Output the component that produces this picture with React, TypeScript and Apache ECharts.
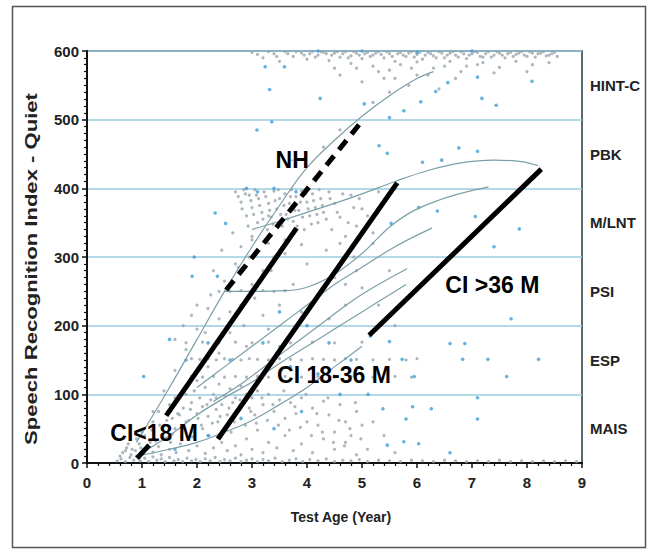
import React, { useEffect, useRef } from "react";
import * as echarts from "echarts";

// ---- Data ----
const xTicks = [0, 1, 2, 3, 4, 5, 6, 7, 8, 9];
const bandLabels = ["MAIS", "ESP", "PSI", "M/LNT", "PBK", "HINT-C"];

const grayPts: number[][] = [
  // bottom band
  [0.55,3],[0.62,6],[0.7,2],[0.78,8],[0.85,4],[0.9,10],[0.97,3],[1.05,7],[1.12,2],[1.2,9],[1.27,4],[1.35,6],[1.42,2],[1.5,8],[1.58,3],[1.66,5],[1.74,2],[1.82,7],[1.9,3],[1.98,5],[2.06,2],[2.15,6],[2.24,3],[2.33,8],[2.42,2],[2.5,5],[2.6,3],[2.7,7],[2.8,2],[2.9,4],[3.0,6],[3.1,2],[3.2,5],[3.3,3],[3.42,7],[3.55,2],[3.68,4],[3.8,6],[3.92,2],[4.05,5],[4.2,3],[4.35,6],[4.5,2],[4.65,4],[4.8,3],[4.95,5],[5.1,2],[5.3,4],[5.5,3],[5.7,2],[5.9,4],[6.1,3],[6.3,2],[6.5,4],[6.7,3],[6.9,2],[7.1,3],[7.3,2],[7.5,4],[7.7,2],[7.9,3],[8.1,2],[8.3,3],[8.5,2],[8.7,3],[8.9,2],
  // low-left cluster
  [0.65,15],[0.72,22],[0.8,12],[0.88,18],[0.95,28],[1.0,14],[1.08,20],[1.15,30],[1.2,16],[1.3,24],[1.35,12],[1.42,35],[1.5,20],[1.55,42],[1.62,15],[1.7,28],[1.78,50],[1.85,18],[1.92,38],[2.0,25],[2.08,55],[2.15,14],[2.22,40],[2.3,22],[2.38,60],[2.45,30],[2.55,18],[2.62,45],[2.7,25],[2.8,12],[2.9,35],[3.0,20],[3.1,48],[3.2,15],[3.3,30],[3.45,22],[3.6,40],[3.75,18],[3.9,28],[4.1,15],[4.3,35],[4.5,20],[4.7,30],[4.9,12],
  [0.6,10],[0.7,18],[0.75,28],[0.82,20],[0.9,35],[0.98,22],[1.05,40],[1.1,25],[1.18,48],[1.25,32],[1.32,55],[1.38,40],[1.45,62],[1.52,30],[1.6,50],[1.65,72],[1.72,38],[1.8,60],[1.88,78],[1.95,45],[2.02,65],[2.1,50],[2.18,85],[2.28,58],[2.35,95],[2.42,68],[2.5,50],[2.58,80],[2.68,60],[2.78,92],[2.88,55],[2.98,75],[3.08,58],[3.18,95],[3.28,62],[3.38,85],[3.48,55],[3.58,105],[3.68,48],[3.78,82],[3.88,52],[3.98,100],[4.08,40],[4.18,72],[4.28,45],[4.38,95],[4.48,30],[4.58,62],[4.68,25],[4.78,50],[4.88,88],[4.98,35],[5.1,20],[5.2,60],[5.4,40],[5.6,15],
  // mid-low cluster
  [1.2,60],[1.3,75],[1.4,55],[1.5,85],[1.55,65],[1.6,95],[1.68,70],[1.75,80],[1.8,100],[1.85,62],[1.9,88],[1.95,105],[2.0,72],[2.05,95],[2.1,82],[2.15,110],[2.2,68],[2.25,92],[2.3,100],[2.35,78],[2.4,115],[2.45,85],[2.5,98],[2.55,70],[2.6,108],[2.65,88],[2.7,95],[2.75,75],[2.8,112],[2.85,90],[2.9,100],[2.95,80],[3.0,95],[3.05,70],[3.1,105],[3.2,85],[3.3,100],[3.4,75],[3.5,92],[3.6,65],[3.7,88],[3.8,72],[3.9,95],[4.0,60],[4.1,80],[4.2,55],[4.3,90],[4.4,70],[4.5,45],[4.6,85],[4.7,60],[4.8,40],[4.9,75],[5.0,55],
  // discrete rows
  [1.9,152],[2.05,151],[2.2,152],[2.35,150],[2.5,152],[2.65,151],[2.8,150],[2.95,152],[3.1,151],[3.3,150],[3.5,152],[3.7,151],[3.9,150],[4.1,152],[4.3,151],[4.5,150],[4.7,152],[4.9,151],[5.2,150],[5.5,151],[5.8,150],[6.0,152],
  [1.9,126],[2.1,125],[2.3,126],[2.5,125],[2.7,126],[2.9,125],[3.1,126],[3.3,125],[3.6,126],[3.9,125],[4.2,126],[4.5,125],[4.8,126],[5.2,125],[5.6,126],[5.9,125],
  [1.8,175],[2.1,176],[2.4,175],[2.7,176],[3.0,175],[3.3,176],[3.7,175],[4.1,176],[4.5,175],[5.0,176],
  // mid sparse
  [1.6,180],[1.75,200],[1.9,215],[2.0,230],[2.15,190],[2.25,245],[2.4,210],[2.5,265],[2.6,220],[2.75,285],[2.85,200],[2.95,300],[3.05,240],[3.2,215],[3.35,280],[3.5,230],[3.6,305],[3.75,260],[3.9,220],[4.0,290],[4.2,245],[4.35,310],[4.5,270],[4.7,230],[4.85,300],[5.0,255],[5.2,320],[5.5,280],
  [2.0,120],[2.2,140],[2.4,160],[2.6,190],[2.8,230],[3.0,260],[3.2,280],[3.4,300],[2.3,280],[2.45,310],[2.65,335],[2.8,315],[3.5,170],[3.8,200],[4.1,230],[4.4,210],[4.7,260],[3.3,195],[2.9,170],[4.6,320],[4.9,280],[5.3,230],[5.6,200],
  [2.6,250],[2.8,251],[3.0,250],[3.2,251],[3.4,250],[3.6,251],
  // M/LNT cluster
  [2.7,395],[2.8,380],[2.85,398],[2.9,360],[2.95,390],[3.0,372],[3.05,398],[3.1,350],[3.12,385],[3.18,365],[3.22,395],[3.28,340],[3.3,378],[3.35,358],[3.4,396],[3.45,370],[3.5,385],[3.55,345],[3.6,392],[3.62,362],[3.68,378],[3.72,398],[3.75,352],[3.8,388],[3.85,368],[3.9,396],[3.95,340],[4.0,380],[4.05,360],[4.1,392],[4.15,372],[4.2,350],[4.25,385],[4.3,365],[4.4,395],[4.45,340],[4.5,378],[4.6,358],[4.7,330],[4.8,390],[4.9,345],[5.0,370],[5.2,335],[5.4,380],[3.0,330],[3.3,320],[3.6,325],[3.9,318],
  [2.75,388],[2.82,370],[2.88,392],[2.93,345],[2.98,382],[3.03,362],[3.08,390],[3.14,375],[3.2,355],[3.25,388],[3.32,368],[3.38,348],[3.42,382],[3.48,398],[3.52,362],[3.58,375],[3.65,355],[3.7,388],[3.78,368],[3.82,345],[3.88,380],[3.92,358],[3.98,392],[4.02,370],[4.08,348],[4.12,382],[4.18,362],[4.22,398],[4.28,375],[4.35,355],[4.42,385],[4.55,365],[4.65,392],[4.75,350],[4.85,372],[4.95,385],[5.1,360],[5.3,395],
  // HINT-C cluster
  [3.0,598],[3.2,590],[3.4,596],[3.5,585],[3.6,599],[3.75,592],[3.9,597],[4.0,588],[4.1,599],[4.2,594],[4.3,598],[4.4,586],[4.5,597],[4.6,591],[4.7,599],[4.8,593],[4.9,597],[5.0,589],[5.1,598],[5.2,594],[5.3,599],[5.4,590],[5.5,596],[5.6,585],[5.7,598],[5.8,592],[5.9,599],[6.0,595],[6.1,588],[6.2,598],[6.3,593],[6.4,599],[6.5,590],[6.6,597],[6.7,594],[6.8,599],[6.9,589],[7.0,596],[7.1,598],[7.2,591],[7.3,599],[7.4,594],[7.5,597],[7.6,590],[7.7,598],[7.8,595],[7.9,599],[8.0,592],[8.1,597],[8.2,596],[8.3,599],[8.4,594],[8.5,598],
  [3.1,595],[3.3,599],[3.45,592],[3.65,596],[3.8,599],[3.95,594],[4.05,596],[4.15,591],[4.25,599],[4.35,596],[4.45,594],[4.55,599],[4.65,596],[4.75,590],[4.85,599],[4.95,594],[5.05,596],[5.15,592],[5.25,597],[5.35,595],[5.45,599],[5.55,592],[5.65,596],[5.75,594],[5.85,597],[5.95,591],[6.05,598],[6.15,594],[6.25,596],[6.35,590],[6.45,597],[6.55,594],[6.65,599],[6.75,591],[6.85,596],[6.95,594],[7.05,599],[7.15,592],[7.25,596],[7.35,591],[7.45,599],[7.55,594],[7.65,596],[7.75,592],[7.85,597],[7.95,594],[8.05,599],[8.15,591],[8.25,597],[8.35,593],[8.45,596],[8.55,592],
  [4.5,575],[4.8,582],[5.2,578],[5.5,572],[5.7,580],[6.0,584],[6.3,575],[6.6,585],[6.9,578],[7.2,583],[7.5,576],[7.8,585],[8.1,580],[8.4,583],[5.4,560],[6.0,565],[6.7,560],[7.4,568],[8.0,570],
  [5.3,570],[5.6,560],[5.9,575],[6.2,565],[6.5,578],[6.8,570],[7.1,580],[4.6,565],[4.9,575],[5.0,555],[6.4,545],[5.85,550],
  // along upper curve
  [1.0,45],[1.2,75],[1.4,105],[1.6,135],[1.8,165],[2.0,195],[2.2,225],[2.4,250],[2.7,290],[3.0,325],[3.3,360],[4.3,460],[4.6,485],[5.2,525],[5.5,540],
];

const bluePts: number[][] = [
  [1.03,126],[3.24,577],[3.59,577],[3.32,544],[4.24,531],[5.04,523],[5.5,503],[5.76,513],[6.07,526],[6.34,541],[6.56,554],[7.18,531],[7.44,521],[8.09,556],[7.1,562],[3.36,497],[3.09,485],[5.31,462],[5.46,451],[6.76,459],[7.1,454],[6.1,438],[6.45,441],[2.52,349],[2.33,364],[6.37,367],[7.06,359],[7.86,341],[7.4,315],[1.95,300],[1.91,272],[2.37,272],[7.71,210],[6.6,174],[6.87,174],[6.83,151],[7.29,151],[8.21,151],[7.63,126],[7.1,95],[7.1,64],[6.6,15],[6.03,28],[5.8,64],[5.46,26],[5.76,31],[6.26,79],[5.92,82],[5.38,79],[5.11,100],[5.5,177],[5.15,185],[5.95,126],[5.73,151],[6.03,372],[5.53,349],
  [1.5,180],[1.8,150],[2.2,175],[2.6,150],[3.2,175],[3.5,220],[4.0,200],[4.4,175],[4.8,150],[3.1,395],[3.4,400],[3.8,395],[2.9,400],[4.2,600],[5.0,600],[6.0,598],[7.0,600],[1.6,20],[2.2,40],[2.8,65],[3.4,50],[3.9,75],[4.6,100],[4.2,130],[3.7,140],
];

// thin fitted curves
const curveA = [[0.9,30],[1.5,110],[2.0,180],[2.5,250],[3.0,315],[3.5,375],[4.0,430],[4.5,470],[5.0,505],[5.5,535],[6.0,560],[6.3,570]];
const curveB = [[3.0,340],[3.5,352],[4.0,365],[4.5,378],[5.0,392],[5.6,410],[6.2,426],[6.8,437],[7.4,441],[7.9,439],[8.2,433]];
const curveC = [[2.5,250],[3.0,250],[3.6,251],[4.0,256],[4.5,275],[5.0,305],[5.6,350],[6.3,380],[7.3,402]];
const curveD = [[2.0,110],[2.5,140],[3.0,170],[3.5,200],[4.0,230],[4.5,260],[5.0,285],[5.6,315],[6.27,342]];
const curveE = [[2.3,90],[2.8,115],[3.3,145],[3.8,175],[4.3,205],[4.8,235],[5.3,260],[5.82,283]];
const curveF = [[0.9,10],[1.5,20],[2.0,30],[2.5,45],[3.0,62],[3.5,85],[4.0,110],[4.5,140],[5.0,170]];
const curveG = [[1.0,15],[1.5,40],[2.0,70],[2.5,95],[3.0,118],[3.5,145],[4.0,170],[4.5,195],[5.0,220],[5.5,245],[5.8,260]];

// thick trend lines
const nhLine = [[2.53,252],[5.0,498]];
const ciUnder18Line = [[1.44,69],[3.81,342]];
const ciUnder18Stub = [[0.91,7],[1.13,26]];
const ci18to36Line = [[2.38,35],[5.64,408]];
const ciOver36Line = [[5.13,186],[8.26,428]];

const annotationNames = ["NH", "CI<18 M", "CI 18-36 M", "CI >36 M"];
const annotationX = [3.73, 1.22, 4.49, 7.37];
const annotationY = [441, 43, 128, 259];

const FONT = "'Liberation Sans', Arial, Helvetica, sans-serif";

export default function App() {
  const ref = useRef<HTMLDivElement>(null);
  useEffect(() => {
    if (!ref.current) return;
    const chart = echarts.init(ref.current, undefined, { renderer: "svg" });
    const thinCurve = (data: number[][]) => ({
      type: "line",
      data,
      smooth: 0.4,
      symbol: "none",
      lineStyle: { color: "#7c9ea9", width: 1.2 },
      z: 4,
      silent: true,
    });
    const thick = (data: number[][], dashed = false) => ({
      type: "line",
      data,
      symbol: "none",
      lineStyle: { color: "#000", width: 5, type: dashed ? [12, 8] : "solid" },
      z: 6,
      silent: true,
    });
    chart.setOption({
      animation: false,
      backgroundColor: "#fff",
      textStyle: { fontFamily: FONT },
      grid: {
        left: 87,
        top: 51,
        width: 495,
        height: 412,
        show: true,
        borderColor: "#1f3a40",
        borderWidth: 1.5,
        containLabel: false,
      },
      xAxis: {
        type: "value",
        min: 0,
        max: 9,
        interval: 1,
        name: "Test Age (Year)",
        nameLocation: "middle",
        nameGap: 47,
        nameTextStyle: { fontFamily: FONT, fontSize: 14, fontWeight: "bold", color: "#222", padding: [0, 0, 0, 13] },
        axisLine: { show: true, lineStyle: { color: "#111", width: 2 } },
        axisTick: { show: true, length: 5, lineStyle: { color: "#111", width: 1.5 } },
        minorTick: { show: true, splitNumber: 5, length: 3, lineStyle: { color: "#111", width: 1.2 } },
        axisLabel: {
          margin: 12,
          fontFamily: FONT,
          fontSize: 15,
          fontWeight: "bold",
          color: "#222",
          formatter: (v: number) => (xTicks.includes(v) ? String(v) : ""),
        },
        splitLine: { show: false },
      },
      yAxis: [
        {
          type: "value",
          min: 0,
          max: 600,
          interval: 100,
          axisLine: { show: true, lineStyle: { color: "#111", width: 2 } },
          axisTick: { show: true, length: 5, lineStyle: { color: "#111", width: 1.5 } },
          minorTick: { show: true, splitNumber: 10, length: 3, lineStyle: { color: "#111", width: 1.2 } },
          axisLabel: { margin: 8, fontFamily: FONT, fontSize: 15, fontWeight: "bold", color: "#222" },
          splitLine: { show: true, lineStyle: { color: "#9ccbe0", width: 1.5 } },
        },
        {
          type: "value",
          min: 0,
          max: 600,
          interval: 50,
          position: "right",
          axisLine: { show: false },
          axisTick: { show: false },
          splitLine: { show: false },
          axisLabel: {
            margin: 8,
            align: "left",
            fontFamily: FONT,
            fontSize: 15,
            fontWeight: "bold",
            color: "#222",
            formatter: (v: number) => (v % 100 === 50 ? bandLabels[(v - 50) / 100] : ""),
          },
        },
      ],
      graphic: [
        {
          type: "rect",
          shape: { x: 12.5, y: 6.5, width: 633, height: 541 },
          style: { fill: "none", stroke: "#555", lineWidth: 1.5 },
          silent: true,
        },
        {
          type: "text",
          x: 32,
          y: 269,
          rotation: Math.PI / 2,
          scaleX: 1.38,
          style: {
            text: "Speech Recognition Index - Quiet",
            fontFamily: FONT,
            fontSize: 16,
            fontWeight: "bold",
            fill: "#222",
            align: "center",
            verticalAlign: "middle",
          },
          silent: true,
        },
      ],
      series: [
        {
          type: "scatter",
          data: grayPts,
          symbolSize: 3.2,
          itemStyle: { color: "#97a5ad" },
          z: 2,
          silent: true,
        },
        {
          type: "scatter",
          data: bluePts,
          symbolSize: 3.6,
          itemStyle: { color: "#3d9fd6" },
          z: 3,
          silent: true,
        },
        thinCurve(curveA),
        thinCurve(curveB),
        thinCurve(curveC),
        thinCurve(curveD),
        thinCurve(curveE),
        thinCurve(curveF),
        thinCurve(curveG),
        thick(nhLine, true),
        thick(ciUnder18Line),
        thick(ciUnder18Stub),
        thick(ci18to36Line),
        thick(ciOver36Line),
        {
          type: "scatter",
          symbolSize: 1,
          itemStyle: { color: "#000", opacity: 1 },
          z: 8,
          silent: true,
          label: {
            show: true,
            position: "inside",
            formatter: "{b}",
            fontFamily: FONT,
            fontSize: 23,
            fontWeight: "bold",
            color: "#000",
            opacity: 1,
            textBorderWidth: 0,
          },
          data: annotationNames.map((n, i) => ({
            name: n,
            value: [annotationX[i], annotationY[i]],
          })),
        },
      ],
    });
    return () => chart.dispose();
  }, []);
  return (
    <div
      ref={ref}
      style={{ position: "fixed", left: 0, top: 0, width: 654, height: 549, background: "#fff" }}
    />
  );
}
